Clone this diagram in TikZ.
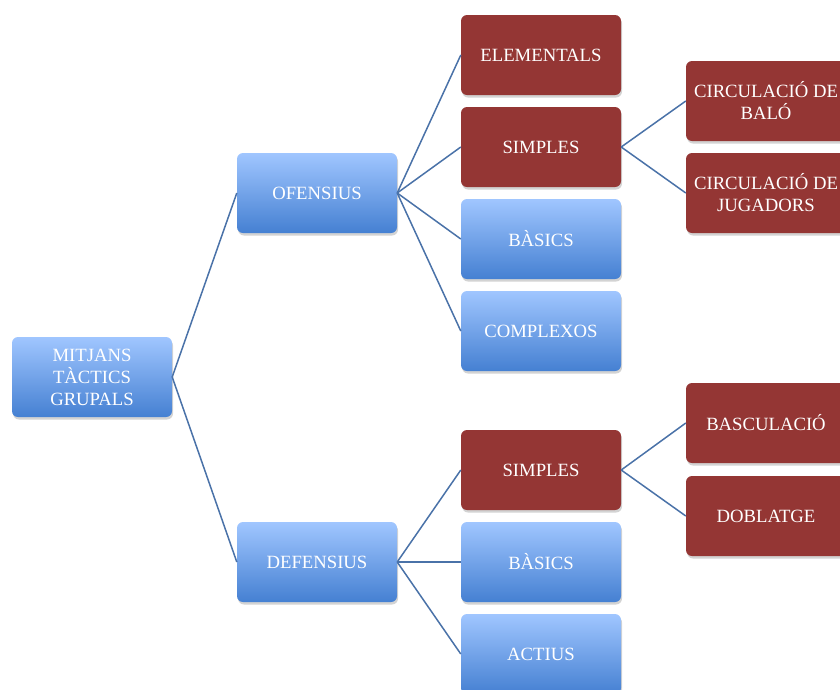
\documentclass[tikz,border=0pt]{standalone}
\usepackage{fontspec}
\setmainfont{Liberation Serif}
\usetikzlibrary{shadows}
\definecolor{lnk}{HTML}{4A72A8}
\definecolor{bluetop}{HTML}{A0C6FF}
\definecolor{bluebot}{HTML}{4580D2}
\definecolor{redbox}{HTML}{943634}
\tikzset{
  base/.style={rounded corners=6pt, minimum width=160pt, minimum height=80pt, inner sep=1pt,
    text=white, align=center, font=\fontsize{18.7}{22}\selectfont,
    drop shadow={opacity=0.35, shadow xshift=1pt, shadow yshift=-2.5pt}},
  bluebox/.style={base, top color=bluetop, bottom color=bluebot, draw=none},
  redbx/.style={base, fill=redbox, draw=none},
  lnkline/.style={draw=lnk, line width=1.5pt}
}
\begin{document}
\begin{tikzpicture}[x=1pt,y=-1pt]
\useasboundingbox (0,0) rectangle (840,689);
\node[bluebox] (root) at (92,377) {MITJANS\\TÀCTICS\\GRUPALS};
\node[bluebox] (of) at (317,193) {OFENSIUS};
\node[bluebox] (def) at (317,562) {DEFENSIUS};
\node[redbx] (elem) at (541,55) {ELEMENTALS};
\node[redbx] (sim1) at (541,147) {SIMPLES};
\node[bluebox] (bas1) at (541,239) {BÀSICS};
\node[bluebox] (comp) at (541,331) {COMPLEXOS};
\node[redbx] (sim2) at (541,470) {SIMPLES};
\node[bluebox] (bas2) at (541,562) {BÀSICS};
\node[bluebox] (act) at (541,654) {ACTIUS};
\node[redbx] (cb) at (766,101) {CIRCULACIÓ DE\\BALÓ};
\node[redbx] (cj) at (766,193) {CIRCULACIÓ DE\\JUGADORS};
\node[redbx] (bc) at (766,423) {BASCULACIÓ};
\node[redbx] (db) at (766,516) {DOBLATGE};
\foreach \a/\b in {root/of, root/def, of/elem, of/sim1, of/bas1, of/comp, def/sim2, def/bas2, def/act, sim1/cb, sim1/cj, sim2/bc, sim2/db}
  \draw[lnkline] (\a.east) -- (\b.west);
\end{tikzpicture}
\end{document}
